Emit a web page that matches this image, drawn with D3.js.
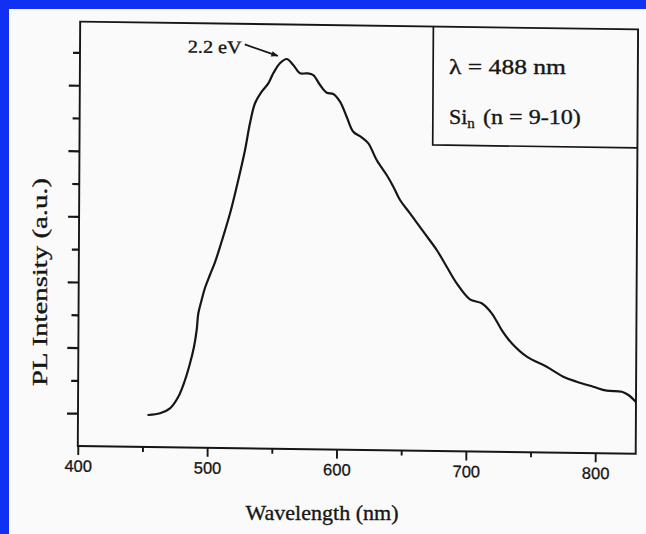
<!DOCTYPE html>
<html><head><meta charset="utf-8">
<script src="https://cdn.jsdelivr.net/npm/d3@7"></script>
<style>
html,body{margin:0;padding:0;background:#fafafa;overflow:hidden;}
svg{display:block;}
text{paint-order:stroke;}
</style></head>
<body>
<svg id="chart" width="646" height="534"></svg>
<script>
// ---- data ----
const wavelength = [454.4,463.4,471.1,477.5,482.6,486.4,489.4,491.4,492.6,495.1,497.6,501.4,505.3,509.1,516.7,522.9,528.0,531.7,535.5,540.6,545.7,549.5,554.6,559.8,564.9,570.2,575.3,580.4,585.7,590.9,596.0,601.2,606.4,611.6,618.1,623.3,629.8,637.6,642.8,648.0,655.8,666.2,676.6,684.4,692.2,702.5,711.6,719.4,727.2,735.0,746.7,762.1,775.0,785.4,798.2,808.6,820.3,825.4,831.0];
const intensity = [0.975,1.032,1.189,1.546,2.058,2.569,3.077,3.587,4.097,4.504,4.871,5.270,5.668,6.137,7.159,8.178,9.096,9.912,10.524,10.880,11.139,11.446,11.754,11.888,11.708,11.458,11.46,11.41,11.109,10.877,10.841,10.609,10.154,9.700,9.533,9.353,8.847,8.394,8.040,7.637,7.236,6.681,6.129,5.624,5.122,4.640,4.523,4.222,3.717,3.316,2.914,2.618,2.320,2.173,2.028,1.912,1.888,1.790,1.589];
const xTicks = [400,450,500,550,600,650,700,750,800];
const xTickLabels = ["400","","500","","600","","700","","800"];
const yTicks = [1,2,3,4,5,6,7,8,9,10,11,12];
const xTitle = "Wavelength (nm)";
const yTitle = "PL Intensity (a.u.)";
const peakLabel = "2.2 eV";
const peakIndex = 23;

// ---- layout ----
const X0 = 77.8, X1 = 635.7, Y0 = 446, Y1 = 21.6;
const skewB = 0.014, skewC = -0.0056;
const ink = "#161616";
const blue = "#1131f2";
const serif = "'Liberation Serif', 'Times New Roman', serif";

const svg = d3.select("#chart");
svg.append("rect").attr("x",0).attr("y",0).attr("width",646).attr("height",534).attr("fill","#fafafa");
svg.append("rect").attr("x",0).attr("y",0).attr("width",646).attr("height",9).attr("fill",blue);
svg.append("rect").attr("x",0).attr("y",0).attr("width",9).attr("height",534).attr("fill",blue);

const x = d3.scaleLinear().domain([400, 831.3]).range([X0, X1]);
const y = d3.scaleLinear().domain([0, 12.94]).range([Y0, Y1]);

const g = svg.append("g")
  .attr("transform", `translate(${X0},${Y0}) matrix(1,${skewB},${skewC},1,0,0) translate(${-X0},${-Y0})`);

// frame
g.append("rect").attr("x",X0).attr("y",Y1).attr("width",X1-X0).attr("height",Y0-Y1)
  .attr("fill","none").attr("stroke",ink).attr("stroke-width",1.9);

// x axis
const xa = g.append("g").attr("transform",`translate(0,${Y0})`)
  .call(d3.axisBottom(x).tickValues(xTicks).tickSizeOuter(0)
    .tickFormat((d,i)=>xTickLabels[i]));
xa.select(".domain").remove();
xa.selectAll(".tick line").attr("stroke",ink).attr("stroke-width",1.9)
  .attr("y2", d => d % 100 === 0 ? 9 : 5);
xa.selectAll(".tick text").attr("fill",ink).attr("dy","0.35em").attr("y",20)
  .attr("stroke",ink).attr("stroke-width",0.3)
  .style("font-family","'Liberation Sans', Arial, sans-serif").style("font-size","16.5px");

// y axis
const ya = g.append("g").attr("transform",`translate(${X0},0)`)
  .call(d3.axisLeft(y).tickValues(yTicks).tickSizeOuter(0).tickFormat(""));
ya.select(".domain").remove();
ya.selectAll(".tick line").attr("stroke",ink).attr("stroke-width",2.2)
  .attr("x2", d => d % 2 === 1 ? -11 : -7);

// curve
const pts = wavelength.map((w,i)=>[w, intensity[i]]);
g.append("clipPath").attr("id","clip").append("rect")
  .attr("x",X0).attr("y",Y1).attr("width",X1-X0).attr("height",Y0-Y1);
g.append("path").datum(pts)
  .attr("clip-path","url(#clip)")
  .attr("fill","none").attr("stroke",ink).attr("stroke-width",2.2)
  .attr("stroke-linecap","round").attr("stroke-linejoin","round")
  .attr("d", d3.line().x(d=>x(d[0])).y(d=>y(d[1])).curve(d3.curveCatmullRom.alpha(0.5)));

// legend box
const LX = 431, LY = 140;
g.append("path").attr("d",`M${LX},${Y1} V${LY} H${X1}`)
  .attr("fill","none").attr("stroke",ink).attr("stroke-width",1.7);

// peak annotation
const px = x(wavelength[peakIndex]), py = y(intensity[peakIndex]);
const defs = svg.append("defs");
defs.append("marker").attr("id","arr").attr("viewBox","0 0 10 10").attr("refX",9).attr("refY",5)
  .attr("markerWidth",8).attr("markerHeight",7).attr("orient","auto-start-reverse")
  .attr("markerUnits","userSpaceOnUse")
  .append("path").attr("d","M0,1 L10,5 L0,9 Z").attr("fill",ink);
g.append("line").attr("x1",px-42).attr("y1",py-14).attr("x2",px-9).attr("y2",py-3)
  .attr("stroke",ink).attr("stroke-width",1.7).attr("marker-end","url(#arr)");
g.append("text").attr("x",px-45).attr("y",py-5).attr("text-anchor","end")
  .attr("fill",ink).attr("stroke",ink).attr("stroke-width",0.35)
  .attr("textLength",54).attr("lengthAdjust","spacingAndGlyphs")
  .style("font-family",serif).style("font-size","18px").text(peakLabel);

// legend text
svg.append("text").attr("x",449).attr("y",74).attr("fill",ink)
  .attr("stroke",ink).attr("stroke-width",0.35)
  .attr("textLength",117).attr("lengthAdjust","spacingAndGlyphs")
  .style("font-family",serif).style("font-size","22px").text("λ = 488 nm");
const t2 = svg.append("text").attr("x",449).attr("y",124).attr("fill",ink)
  .attr("stroke",ink).attr("stroke-width",0.35)
  .style("font-family",serif).style("font-size","22px");
t2.append("tspan").text("Si");
t2.append("tspan").attr("dy",4).style("font-size","15px").text("n");
t2.append("tspan").attr("dy",-4).attr("dx",2).attr("textLength",104).attr("lengthAdjust","spacingAndGlyphs").text(" (n = 9-10)");

// axis titles
svg.append("text").attr("x",322).attr("y",520).attr("text-anchor","middle").attr("fill",ink)
  .attr("stroke",ink).attr("stroke-width",0.35)
  .attr("textLength",153).attr("lengthAdjust","spacingAndGlyphs")
  .style("font-family",serif).style("font-size","22px").text(xTitle);
svg.append("text").attr("transform","translate(47,282) rotate(-90)").attr("text-anchor","middle").attr("fill",ink)
  .attr("stroke",ink).attr("stroke-width",0.35)
  .attr("textLength",208).attr("lengthAdjust","spacingAndGlyphs")
  .style("font-family",serif).style("font-size","22px").text(yTitle);
</script>
</body></html>
